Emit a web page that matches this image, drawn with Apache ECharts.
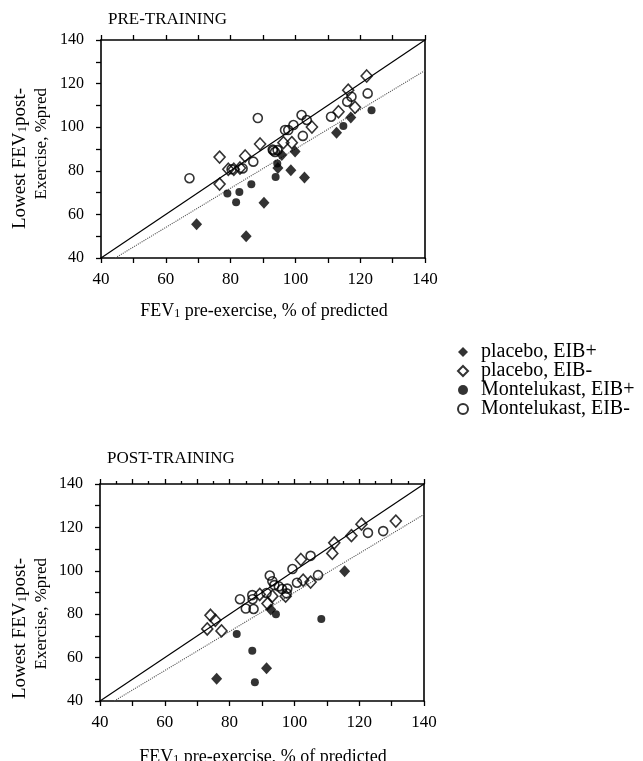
<!DOCTYPE html>
<html>
<head>
<meta charset="utf-8">
<script src="https://cdn.jsdelivr.net/npm/echarts@6/dist/echarts.min.js"></script>
<style>
  html, body { margin: 0; padding: 0; background: #fff; }
  #chart { width: 643px; height: 761px; }
</style>
</head>
<body>
<div id="chart"></div>
<script>
// FEV1 before exercise vs lowest FEV1 after exercise (% predicted), [x, y] pairs

// Pre-training
const prePlaceboPos = [[69.5,55.5],[84.8,50],[90.3,65.3],[94.6,81.3],[95.8,87.2],[98.6,80.3],[99.9,88.8],[102.8,76.9],[112.7,97.4],[117.1,104.5]];
const prePlaceboNeg = [[76.6,86.3],[76.6,73.9],[79.3,80.7],[81,80.7],[82.9,81.3],[84.5,86.8],[89.1,92.3],[96.3,92.9],[98.9,92.9],[105.1,100.1],[113.3,107.1],[116.3,117],[118.4,109.1],[122,123.5]];
const preMontePos = [[79,69.6],[81.7,65.6],[82.7,70.3],[86.4,73.8],[93.9,77.2],[94.4,83.3],[114.8,100.6],[123.5,107.8]];
const preMonteNeg = [[67.3,76.6],[80.3,80.7],[83.7,81.1],[87,84.2],[88.4,104.2],[93,89.8],[93.2,89.3],[93.7,88.6],[94.5,89.5],[96.8,98.7],[97.8,98.7],[99.4,101],[101.9,105.6],[102.3,96],[103.5,103.3],[111,104.8],[116,111.7],[117.3,114],[122.3,115.5]];

// Post-training
const postPlaceboPos = [[76,50.2],[91.4,55.1],[92.7,82.2],[115.5,99.8]];
const postPlaceboNeg = [[73.1,73.2],[74.1,79.5],[75.6,77.2],[77.5,72.3],[89.3,89.1],[91.7,84.9],[93.2,88.3],[97.3,88.3],[102,105.2],[102.7,95.7],[105,94.8],[111.7,108],[112.3,112.9],[117.6,116.2],[120.7,121.5],[131.3,122.9]];
const postMontePos = [[82.2,70.9],[87,63.2],[87.8,48.6],[94.3,80],[108.3,77.8]];
const postMonteNeg = [[83.2,86.9],[85,82.6],[87,88.8],[87.1,86.9],[87.4,82.4],[91.4,89.8],[92.4,97.8],[93.2,95.2],[93.8,93.4],[95.2,92.8],[96.2,91.6],[97.8,91.8],[97.6,89.6],[99.4,100.8],[100.8,94.5],[105,106.9],[107.3,98],[122.7,117.5],[127.4,118.3]];

// Reference lines: line of identity and dotted 10%-fall line
const identityLine = [[40,40],[140,140]];
const fallLine = [[44.4,40],[140,126]];

const groupNames = ['placebo, EIB+', 'placebo, EIB-', 'Montelukast, EIB+', 'Montelukast, EIB-'];
const panelTitles = ['PRE-TRAINING', 'POST-TRAINING'];
const axisMin = 40, axisMax = 140;

const FONT = 'Liberation Serif, Times New Roman, serif';
const BLACK = '#000';
const CLEAR = 'rgba(255,255,255,0)';

const markerStyles = [
  { symbol: 'diamond', symbolSize: [11, 12], itemStyle: { color: BLACK } },
  { symbol: 'diamond', symbolSize: [11, 12], itemStyle: { color: CLEAR, borderColor: BLACK, borderWidth: 1.6 } },
  { symbol: 'circle', symbolSize: 8, itemStyle: { color: BLACK } },
  { symbol: 'circle', symbolSize: 9, itemStyle: { color: CLEAR, borderColor: BLACK, borderWidth: 1.6 } }
];

const panels = [
  [prePlaceboPos, prePlaceboNeg, preMontePos, preMonteNeg],
  [postPlaceboPos, postPlaceboNeg, postMontePos, postMonteNeg]
];

const axisLineStyle = { show: true, lineStyle: { color: BLACK, width: 1.6 } };
const tickLine = { color: BLACK, width: 1.3 };

function bottomX(grid) {
  return {
    gridIndex: grid, type: 'value', position: 'bottom', min: axisMin, max: axisMax, interval: 20,
    axisLine: axisLineStyle,
    axisTick: { show: true, length: 5, lineStyle: tickLine },
    minorTick: { show: true, splitNumber: 2, length: 5, lineStyle: tickLine },
    axisLabel: { color: BLACK, fontFamily: FONT, fontSize: 17, margin: 13 },
    splitLine: { show: false }, minorSplitLine: { show: false }
  };
}
function topX(grid, fine) {
  return {
    gridIndex: grid, type: 'value', position: 'top', min: axisMin, max: axisMax,
    interval: fine ? 10 : 20,
    axisLine: axisLineStyle,
    axisTick: { show: true, length: 5, lineStyle: tickLine },
    minorTick: { show: true, splitNumber: 2, length: fine ? 3 : 5, lineStyle: tickLine },
    axisLabel: { show: false },
    splitLine: { show: false }, minorSplitLine: { show: false }
  };
}
function leftY(grid) {
  return {
    gridIndex: grid, type: 'value', position: 'left', min: axisMin, max: axisMax, interval: 20,
    axisLine: axisLineStyle,
    axisTick: { show: true, length: 5, lineStyle: tickLine },
    minorTick: { show: true, splitNumber: 2, length: 5, lineStyle: tickLine },
    axisLabel: { color: BLACK, fontFamily: FONT, fontSize: 16, margin: 17 },
    splitLine: { show: false }, minorSplitLine: { show: false }
  };
}
function rightY(grid) {
  return {
    gridIndex: grid, type: 'value', position: 'right', min: axisMin, max: axisMax,
    axisLine: axisLineStyle, axisTick: { show: false }, axisLabel: { show: false },
    splitLine: { show: false }
  };
}

const series = [];
panels.forEach((groups, p) => {
  const xi = p * 2, yi = p * 2;
  series.push({
    type: 'line', xAxisIndex: xi, yAxisIndex: yi, data: identityLine, symbol: 'none', silent: true,
    lineStyle: { color: BLACK, width: 1.2 }, z: 1
  });
  series.push({
    type: 'line', xAxisIndex: xi, yAxisIndex: yi, data: fallLine, symbol: 'none', silent: true,
    lineStyle: { color: '#555', width: 1.1, type: 'dotted' }, z: 1
  });
  groups.forEach((data, g) => {
    series.push(Object.assign({
      type: 'scatter', name: groupNames[g], xAxisIndex: xi, yAxisIndex: yi, data: data, z: 3
    }, markerStyles[g]));
  });
});

function richSet(size) {
  return {
    a: { fontFamily: FONT, fontSize: size, color: BLACK, lineHeight: size },
    s: { fontFamily: FONT, fontSize: Math.round(size * 0.66), color: BLACK, lineHeight: Math.round(size * 0.66), verticalAlign: 'bottom' }
  };
}
const richTitle = richSet(18);

function yTitle(lineTop) {
  return [
    { type: 'text', x: 20, y: lineTop, rotation: Math.PI / 2,
      style: { text: '{a|Lowest FEV}{s|1}{a|post-}', rich: richSet(19), align: 'right', verticalAlign: 'middle' } },
    { type: 'text', x: 42, y: lineTop, rotation: Math.PI / 2,
      style: { text: '{a|Exercise, %pred}', rich: richSet(17), align: 'right', verticalAlign: 'middle' } }
  ];
}

const graphic = [
  { type: 'text', x: 108, y: 20, style: { text: panelTitles[0], font: '17px ' + FONT, fill: BLACK, align: 'left', verticalAlign: 'middle' } },
  { type: 'text', x: 107, y: 459, style: { text: panelTitles[1], font: '17px ' + FONT, fill: BLACK, align: 'left', verticalAlign: 'middle' } },
  { type: 'text', x: 264, y: 311, style: { text: '{a|FEV}{s|1}{a| pre-exercise, % of predicted}', rich: richTitle, align: 'center', verticalAlign: 'middle' } },
  { type: 'text', x: 263, y: 757, style: { text: '{a|FEV}{s|1}{a| pre-exercise, % of predicted}', rich: richTitle, align: 'center', verticalAlign: 'middle' } }
].concat(yTitle(88), yTitle(558));

const chart = echarts.init(document.getElementById('chart'), null, { renderer: 'canvas' });
chart.setOption({
  animation: false,
  backgroundColor: '#fff',
  grid: [
    { left: 101, top: 40, width: 324, height: 218 },
    { left: 100, top: 484, width: 324, height: 217 }
  ],
  xAxis: [bottomX(0), topX(0, false), bottomX(1), topX(1, true)],
  yAxis: [leftY(0), rightY(0), leftY(1), rightY(1)],
  legend: {
    orient: 'vertical', left: 452, top: 337, itemWidth: 10, itemHeight: 10, itemGap: -1,
    data: groupNames, selectedMode: false,
    textStyle: { fontFamily: FONT, fontSize: 20, color: BLACK, lineHeight: 18, padding: [0, 0, 0, 8] }
  },
  graphic: graphic,
  series: series
});
</script>
</body>
</html>
